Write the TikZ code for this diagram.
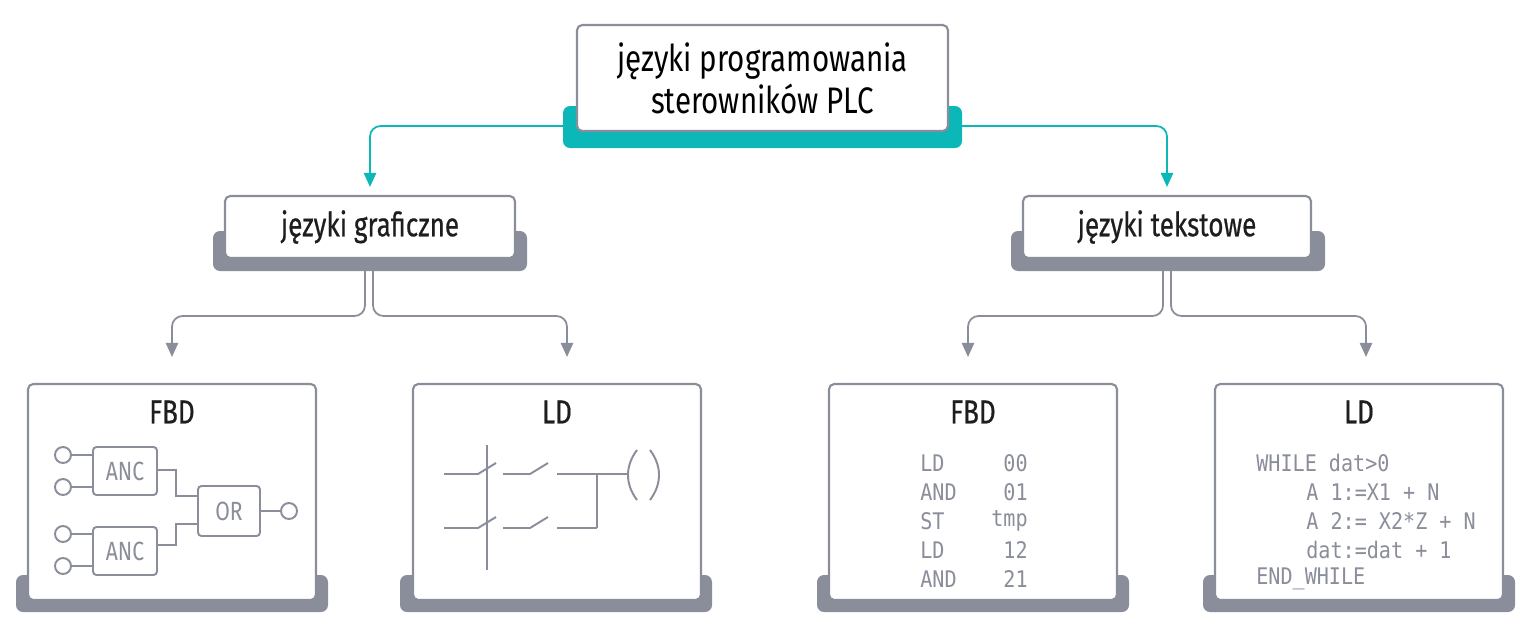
\documentclass[tikz,border=0pt]{standalone}
\usepackage{fontspec}
\setmainfont{Fira Sans}[FakeStretch=0.8]
\newfontfamily\headfont{Fira Sans}[FakeStretch=0.78,FakeBold=0.5]
\setmonofont{DejaVu Sans Mono}[FakeStretch=0.88]
\usetikzlibrary{calc,positioning,arrows.meta}
\definecolor{teal}{HTML}{0BB7B7}
\definecolor{slate}{HTML}{8A8D9A}
\definecolor{ink}{HTML}{1E1E1E}
\begin{document}
\begin{tikzpicture}[x=0.02cm,y=-0.02cm]
\tikzstyle{card}=[draw=slate,line width=1.2pt,fill=white,rounded corners=3pt,inner sep=0pt]
\tikzstyle{base}=[fill=slate,rounded corners=4pt]
\tikzstyle{link}=[draw=slate,line width=1pt,rounded corners=6pt,-{Triangle[width=7pt,length=8pt]}]
\tikzstyle{part}=[draw=slate,line width=1.1pt]
\tikzstyle{gate}=[part,rounded corners=2pt,inner sep=0pt,font=\fontsize{15}{15}\selectfont\color{slate}]
\tikzstyle{code}=[anchor=west,inner sep=0pt,font=\ttfamily\fontsize{13}{13}\selectfont\color{slate}]
\tikzstyle{head}=[font=\headfont\fontsize{19}{19}\selectfont\color{ink}]
\useasboundingbox (0,0) rectangle (1531,630);
% backing bars
\fill[teal,rounded corners=4pt] (563,106) rectangle (962,148);
\foreach \x in {213,1011} \fill[base] (\x,231) rectangle (\x+314,271);
\foreach \x in {16,400,817,1203} \fill[base] (\x,575) rectangle (\x+312,612);
% cards
\node[card,minimum width=371*0.02cm,minimum height=106*0.02cm,head,font=\fontsize{21}{24}\selectfont,align=center] (root) at (762.5,78) {języki programowania\\sterowników PLC};
\node[card,minimum width=290*0.02cm,minimum height=62*0.02cm,head] (graf) at (370,227) {języki graficzne};
\node[card,minimum width=288*0.02cm,minimum height=62*0.02cm,head] (text) at (1167,227) {języki tekstowe};
\foreach \name/\x in {fbdg/172,ldg/557,fbdt/973,ldt/1359}
	\node[card,minimum width=288*0.02cm,minimum height=216*0.02cm] (\name) at (\x,492) {};
\foreach \name/\label in {fbdg/FBD,ldg/LD,fbdt/FBD,ldt/LD}
	\node[head] at ($(\name.north)+(0,29)$) {\label};
% connectors
\coordinate (tl) at (563,126);
\coordinate (tr) at (962,126);
\draw[link,draw=teal,teal] (tl) -| ($(graf.north)+(0,-8)$);
\draw[link,draw=teal,teal] (tr) -| ($(text.north)+(0,-8)$);
\draw[link] (365,271) |- (172,316) -- ($(fbdg.north)+(0,-26)$);
\draw[link] (373,271) |- (567,316) -- ($(ldg.north)+(0,-26)+(10,0)$);
\draw[link] (1163,271) |- (968,316) -- ($(fbdt.north)+(0,-26)+(-5,0)$);
\draw[link] (1171,271) |- (1366,316) -- ($(ldt.north)+(0,-26)+(7,0)$);
% function block diagram
\node[gate,minimum width=64*0.02cm,minimum height=48*0.02cm] (anc1) at (125,471) {ANC};
\node[gate,minimum width=64*0.02cm,minimum height=48*0.02cm] (anc2) at (125,551) {ANC};
\node[gate,minimum width=62*0.02cm,minimum height=50*0.02cm] (or) at (229,511) {OR};
\foreach \y in {455,487,534,566} {
	\draw[part] (63,\y) circle[radius=8];
	\draw[part] (71,\y) -- (93,\y);
}
\draw[part] (289,511) circle[radius=8];
\draw[part] (or.east) -- (281,511);
\draw[part] (157,470) -| (176,496) -- (198,496);
\draw[part] (157,545) -| (176,524) -- (198,524);
% ladder diagram
\draw[part] (487,445) -- (487,570);
\foreach \y in {474,528} {
	\draw[part] (444,\y) -- (478,\y) -- (496,\y-11);
	\draw[part] (503,\y) -- (530,\y) -- (548,\y-11);
	\draw[part] (557,\y) -- (597,\y);
}
\draw[part] (597,474) -- (628,474);
\draw[part] (597,474) -- (597,528);
\draw[part] (637,450) .. controls (625,466) and (625,484) .. (637,500);
\draw[part] (650,450) .. controls (662,466) and (662,484) .. (650,500);
% instruction list
\foreach \y/\op/\arg in {463/LD/00,492/AND/01,521/ST/tmp,550/LD/12,579/AND/21} {
	\node[code] at (920,\y) {\op};
	\node[code,anchor=east] at (1028,\y) {\arg};
}
% structured text
\foreach \y/\x/\line in {463/1256/{WHILE dat>0},492/1306/{A 1:=X1 + N},521/1306/{A 2:= X2*Z + N},550/1306/{dat:=dat + 1},579/1256/{END\_WHILE}}
	\node[code] at (\x,\y) {\line};
\end{tikzpicture}
\end{document}
